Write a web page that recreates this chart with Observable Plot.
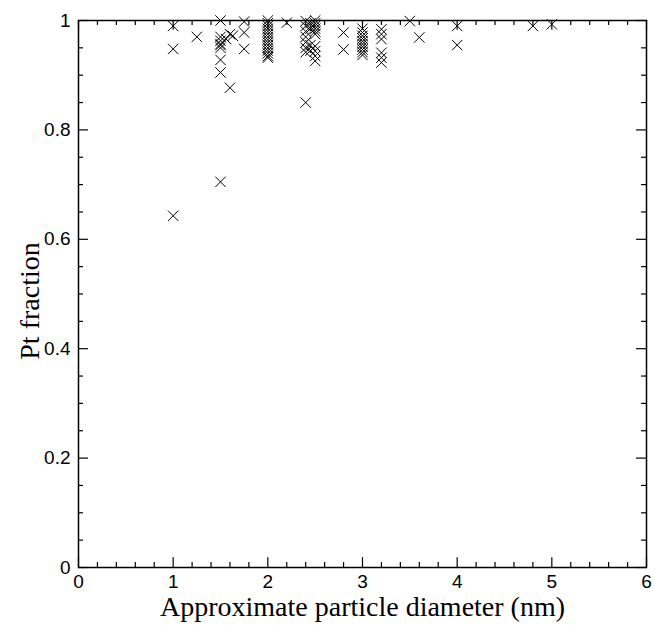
<!DOCTYPE html>
<html>
<head>
<meta charset="utf-8">
<script src="https://cdn.jsdelivr.net/npm/d3@7"></script>
<script src="https://cdn.jsdelivr.net/npm/@observablehq/plot@0.6"></script>
<style>
  html, body { margin: 0; padding: 0; background: #fff; }
</style>
</head>
<body>
<div id="chart"></div>
<script>
// Approximate particle diameter (nm)
const diameter = [
  1.0, 1.0, 1.0,
  1.25,
  1.5, 1.5, 1.5, 1.5, 1.5, 1.5, 1.5, 1.5, 1.5,
  1.56, 1.6, 1.6, 1.63,
  1.75, 1.75, 1.75,
  2.0, 2.0, 2.0, 2.0, 2.0, 2.0, 2.0, 2.0, 2.0, 2.0, 2.0, 2.0, 2.0, 2.0, 2.0,
  2.2,
  2.4, 2.4, 2.4, 2.4, 2.4, 2.4, 2.4, 2.4,
  2.45, 2.45, 2.45, 2.45,
  2.5, 2.5, 2.5, 2.5, 2.5, 2.5, 2.5, 2.5, 2.5, 2.5,
  2.8, 2.8,
  3.0, 3.0, 3.0, 3.0, 3.0, 3.0, 3.0, 3.0, 3.0, 3.0,
  3.2, 3.2, 3.2, 3.2, 3.2, 3.2,
  3.5,
  3.6,
  4.0, 4.0,
  4.8,
  5.0
];
// Pt fraction
const ptFraction = [
  0.99, 0.948, 0.643,
  0.97,
  1.0, 0.97, 0.963, 0.957, 0.955, 0.95, 0.928, 0.905, 0.705,
  0.966, 0.975, 0.877, 0.972,
  0.998, 0.978, 0.948,
  1.0, 0.995, 0.99, 0.985, 0.98, 0.975, 0.97, 0.965, 0.96, 0.955, 0.95, 0.945, 0.94, 0.935, 0.932,
  0.996,
  0.999, 0.99, 0.98, 0.97, 0.96, 0.95, 0.942, 0.85,
  0.995, 0.985, 0.955, 0.945,
  1.0, 0.995, 0.99, 0.985, 0.98, 0.975, 0.953, 0.944, 0.935, 0.926,
  0.978, 0.947,
  0.985, 0.978, 0.972, 0.967, 0.962, 0.957, 0.952, 0.947, 0.942, 0.937,
  0.984, 0.975, 0.966, 0.941, 0.932, 0.923,
  0.999,
  0.969,
  0.99, 0.955,
  0.99,
  0.993
];

const xMajor = [0, 1, 2, 3, 4, 5, 6];
const xMinor = d3.range(0, 30).map(i => i * 0.2).filter(v => Math.abs(v - Math.round(v)) > 1e-6);
const yMajor = [0, 0.2, 0.4, 0.6, 0.8, 1];
const yMinor = d3.range(0, 20).map(i => i * 0.05).filter(v => Math.abs(v * 5 - Math.round(v * 5)) > 1e-6);

const xLabel = "Approximate particle diameter (nm)";
const yLabel = "Pt fraction";

const points = diameter.map((d, i) => ({d, f: ptFraction[i]}));

const fmt = v => String(+v.toFixed(1));

const tickFont = "'Liberation Sans', Arial, Helvetica, sans-serif";
const titleFont = "'Liberation Serif', 'Times New Roman', serif";

// tick lengths expressed in data units
const xMaj = 0.018, xMin = 0.009;   // along y
const yMaj = 0.105, yMin = 0.053;   // along x

const chart = Plot.plot({
  width: 655,
  height: 625,
  marginLeft: 78,
  marginRight: 9,
  marginTop: 20,
  marginBottom: 58,
  x: {domain: [0, 6]},
  y: {domain: [0, 1]},
  style: {background: "#fff", color: "#000"},
  marks: [
    Plot.frame({stroke: "#000", strokeWidth: 1.5}),
    // inward ticks, bottom & top
    Plot.ruleX(xMajor, {y1: 0, y2: xMaj, stroke: "#000", strokeWidth: 1.2}),
    Plot.ruleX(xMajor, {y1: 1, y2: 1 - xMaj, stroke: "#000", strokeWidth: 1.2}),
    Plot.ruleX(xMinor, {y1: 0, y2: xMin, stroke: "#000", strokeWidth: 1.2}),
    Plot.ruleX(xMinor, {y1: 1, y2: 1 - xMin, stroke: "#000", strokeWidth: 1.2}),
    // inward ticks, left & right
    Plot.ruleY(yMajor, {x1: 0, x2: yMaj, stroke: "#000", strokeWidth: 1.2}),
    Plot.ruleY(yMajor, {x1: 6, x2: 6 - yMaj, stroke: "#000", strokeWidth: 1.2}),
    Plot.ruleY(yMinor, {x1: 0, x2: yMin, stroke: "#000", strokeWidth: 1.2}),
    Plot.ruleY(yMinor, {x1: 6, x2: 6 - yMin, stroke: "#000", strokeWidth: 1.2}),
    Plot.axisX({ticks: xMajor, tickSize: 0, tickPadding: 7, tickFormat: fmt, label: null,
      fontSize: 19, fontFamily: tickFont}),
    Plot.axisY({ticks: yMajor, tickSize: 0, tickPadding: 8, tickFormat: fmt, label: null,
      fontSize: 19, fontFamily: tickFont}),
    Plot.text([xLabel], {frameAnchor: "bottom", dy: 40, text: d => d, textAnchor: "middle", lineAnchor: "middle",
      fontSize: 28, fontFamily: titleFont, fill: "#000"}),
    Plot.text([yLabel], {frameAnchor: "left", dx: -48, dy: 7, rotate: -90, text: d => d, textAnchor: "middle", lineAnchor: "middle",
      fontSize: 28, fontFamily: titleFont, fill: "#000"}),
    Plot.dot(points, {x: "d", y: "f", symbol: "times", r: 4.8, stroke: "#000", strokeWidth: 1, fill: "none"})
  ]
});

document.getElementById("chart").appendChild(chart);
</script>
</body>
</html>
